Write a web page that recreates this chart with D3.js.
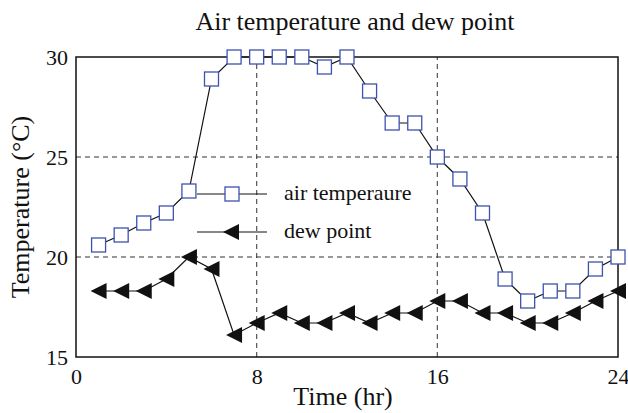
<!DOCTYPE html>
<html>
<head>
<meta charset="utf-8">
<script src="https://cdn.jsdelivr.net/npm/d3@7"></script>
<style>
  body { margin: 0; background: #fff; }
  text { font-family: "Liberation Serif", "DejaVu Serif", serif; fill: #111; }
</style>
</head>
<body>
<div class="chart"></div>
<script>
// hours and readings
const hours = [1, 2, 3, 4, 5, 6, 7, 8, 9, 10, 11, 12, 13, 14, 15, 16, 17, 18, 19, 20, 21, 22, 23, 24]
const airTemp = [20.6, 21.1, 21.7, 22.2, 23.3, 28.9, 30, 30, 30, 30, 29.5, 30, 28.3, 26.7, 26.7, 25, 23.9, 22.2, 18.9, 17.8, 18.3, 18.3, 19.4, 20]
const dewPoint = [18.3, 18.3, 18.3, 18.9, 20, 19.4, 16.1, 16.7, 17.2, 16.7, 16.7, 17.2, 16.7, 17.2, 17.2, 17.8, 17.8, 17.2, 17.2, 16.7, 16.7, 17.2, 17.8, 18.3]
const xTicks = [0, 8, 16, 24]
const yTicks = [15, 20, 25, 30]
const seriesNames = ["air temperaure", "dew point"]

const width = 628
const height = 413
const margin = { top: 57, right: 10, bottom: 56, left: 76 }
const serif = "'Liberation Serif', 'DejaVu Serif', serif"

const svg = d3.select(".chart")
  .append("svg")
  .attr("width", width)
  .attr("height", height)

const xScale = d3.scaleLinear()
  .domain([0, 24])
  .range([margin.left, width - margin.right])

const yScale = d3.scaleLinear()
  .domain([15, 30])
  .range([height - margin.bottom, margin.top])

// dashed grid
svg.append("g")
  .selectAll("line")
  .data([8, 16])
  .enter()
  .append("line")
  .attr("x1", (d) => xScale(d))
  .attr("x2", (d) => xScale(d))
  .attr("y1", yScale(15))
  .attr("y2", yScale(30))
  .attr("stroke", "#555")
  .attr("stroke-width", 1.2)
  .attr("stroke-dasharray", "5,4")

svg.append("g")
  .selectAll("line")
  .data([20, 25])
  .enter()
  .append("line")
  .attr("x1", xScale(0))
  .attr("x2", xScale(24))
  .attr("y1", (d) => yScale(d))
  .attr("y2", (d) => yScale(d))
  .attr("stroke", "#333")
  .attr("stroke-width", 1.2)
  .attr("stroke-dasharray", "5,4")

// axes
const xAxis = d3.axisBottom(xScale).tickValues(xTicks).tickSize(0).tickPadding(11)
svg.append("g")
  .attr("transform", "translate(0," + yScale(15) + ")")
  .call(xAxis)
  .attr("font-family", serif)
  .attr("font-size", 22)
  .call((g) => g.select(".domain").remove())
  .selectAll("text")
  .style("font-family", serif)
  .style("font-size", "22px")

const yAxis = d3.axisLeft(yScale).tickValues(yTicks).tickSize(0).tickPadding(8)
svg.append("g")
  .attr("transform", "translate(" + xScale(0) + ",0)")
  .call(yAxis)
  .attr("font-family", serif)
  .attr("font-size", 22)
  .call((g) => g.select(".domain").remove())
  .selectAll("text")
  .style("font-family", serif)
  .style("font-size", "22px")

// frame
svg.append("rect")
  .attr("x", xScale(0))
  .attr("y", yScale(30))
  .attr("width", xScale(24) - xScale(0))
  .attr("height", yScale(15) - yScale(30))
  .attr("fill", "none")
  .attr("stroke", "#111")
  .attr("stroke-width", 1.5)

const line = d3.line()
  .x((d) => xScale(d[0]))
  .y((d) => yScale(d[1]))

const airData = hours.map((h, i) => [h, airTemp[i]])
const dewData = hours.map((h, i) => [h, dewPoint[i]])

const triangle = "M-8,0L8,-8L8,8Z"

// dew point series
svg.append("path")
  .datum(dewData)
  .attr("d", line)
  .attr("fill", "none")
  .attr("stroke", "#111")
  .attr("stroke-width", 1.2)

svg.selectAll(".dew")
  .data(dewData)
  .enter()
  .append("path")
  .attr("class", "dew")
  .attr("d", triangle)
  .attr("transform", (d) => "translate(" + xScale(d[0]) + "," + yScale(d[1]) + ")")
  .attr("fill", "#111")

// air temperature series
svg.append("path")
  .datum(airData)
  .attr("d", line)
  .attr("fill", "none")
  .attr("stroke", "#111")
  .attr("stroke-width", 1.2)

svg.selectAll(".air")
  .data(airData)
  .enter()
  .append("rect")
  .attr("class", "air")
  .attr("x", (d) => xScale(d[0]) - 7)
  .attr("y", (d) => yScale(d[1]) - 7)
  .attr("width", 14)
  .attr("height", 14)
  .attr("fill", "#fff")
  .attr("stroke", "#3d52b0")
  .attr("stroke-width", 1.3)

// legend
const legend = svg.append("g")
const legY = [194, 232]
seriesNames.forEach((name, i) => {
  legend.append("line")
    .attr("x1", 197).attr("x2", 267)
    .attr("y1", legY[i]).attr("y2", legY[i])
    .attr("stroke", "#111").attr("stroke-width", 1.2)
  if (i === 0) {
    legend.append("rect")
      .attr("x", 225).attr("y", legY[i] - 7)
      .attr("width", 14).attr("height", 14)
      .attr("fill", "#fff").attr("stroke", "#3d52b0").attr("stroke-width", 1.3)
  } else {
    legend.append("path")
      .attr("d", triangle)
      .attr("transform", "translate(231," + legY[i] + ")")
      .attr("fill", "#111")
  }
  legend.append("text")
    .attr("x", 284)
    .attr("y", legY[i] + 6)
    .style("font-size", "22px")
    .text(name)
})

// title
svg.append("text")
  .attr("x", 355)
  .attr("y", 30)
  .attr("text-anchor", "middle")
  .style("font-size", "26px")
  .text("Air temperature and dew point")

// axis labels
svg.append("text")
  .attr("x", 343)
  .attr("y", 405)
  .attr("text-anchor", "middle")
  .style("font-size", "26px")
  .text("Time (hr)")

svg.append("text")
  .attr("transform", "translate(29," + yScale(22.5) + ") rotate(-90)")
  .attr("text-anchor", "middle")
  .style("font-size", "26px")
  .text("Temperature (°C)")
</script>
</body>
</html>
